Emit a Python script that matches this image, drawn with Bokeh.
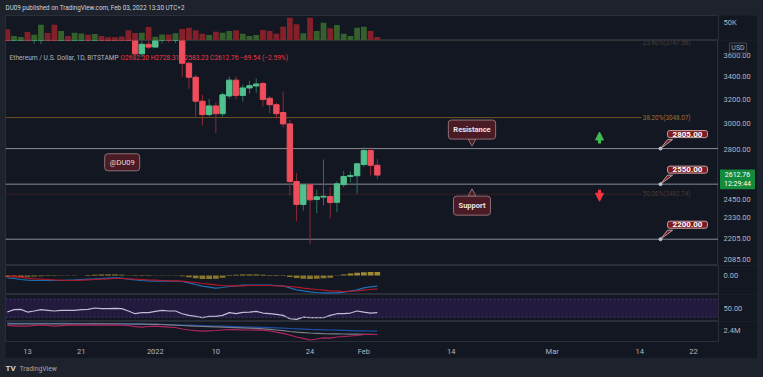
import numpy as np
import pandas as pd
from bokeh.plotting import figure
from bokeh.layouts import column, row
from bokeh.models import (Range1d, FixedTicker, PrintfTickFormatter, Span, Label,
                          Arrow, NormalHead, ColumnDataSource, Spacer, BoxAnnotation)
from bokeh.embed import file_html
from bokeh.resources import INLINE
from bokeh.core.properties import value

# ---------------- data ----------------
start_date = "2021-12-10"
end_date = "2022-02-03"
origin_date = "2021-12-13"

opens = [4111, 3901, 4067, 4131, 3782, 3859, 4018, 3960, 3880, 3961, 3921, 3941, 4020, 3983,
         4108, 4045, 4040, 4030, 4015, 3795, 3616, 3710, 3682, 3765, 3830, 3762, 3793, 3526,
         3396, 3185, 3073, 3145, 3080, 3230, 3370, 3235, 3300, 3318, 3340, 3210, 3155, 3090,
         2997, 2568, 2415, 2545, 2447, 2463, 2467, 2429, 2547, 2603, 2608, 2688, 2790, 2682.30]
highs = [4239, 4100, 4147, 4131, 3880, 4090, 4100, 3990, 3990, 4040, 3960, 4060, 4060, 4140,
         4130, 4110, 4090, 4125, 4035, 3830, 3765, 3770, 3775, 3860, 3840, 3880, 3850, 3545,
         3420, 3240, 3205, 3175, 3260, 3400, 3405, 3330, 3365, 3385, 3355, 3230, 3170, 3270,
         3032, 2628, 2550, 2556, 2513, 2724, 2529, 2570, 2640, 2640, 2700, 2815, 2815, 2728.31]
lows = [3890, 3870, 4000, 3760, 3716, 3712, 3950, 3800, 3850, 3910, 3830, 3920, 3960, 3960,
        4030, 4030, 3990, 4010, 3770, 3600, 3585, 3660, 3675, 3720, 3728, 3722, 3400, 3292,
        3057, 2984, 3057, 2925, 3057, 3205, 3200, 3182, 3250, 3258, 3140, 3083, 3038, 2968,
        2474, 2309, 2376, 2169, 2359, 2408, 2326, 2365, 2529, 2563, 2485, 2670, 2610, 2583.23]
closes = [3901, 4067, 4131, 3782, 3859, 4018, 3960, 3880, 3961, 3921, 3941, 4020, 3983, 4108,
          4045, 4040, 4030, 4015, 3795, 3616, 3710, 3682, 3765, 3830, 3762, 3793, 3526, 3396,
          3185, 3073, 3145, 3080, 3240, 3370, 3235, 3300, 3320, 3335, 3200, 3155, 3080, 2997,
          2568, 2415, 2545, 2445, 2465, 2468, 2427, 2552, 2603, 2610, 2693, 2790, 2682.30, 2612.76]
volume_k = [23.9, 9.6, 7.5, 18.1, 12.1, 33.7, 16.0, 33.7, 20.2, 9.6, 16.6, 14.9, 12.4, 13.8,
            9.6, 6.8, 6.8, 8.5, 21.7, 16.0, 16.6, 28.8, 7.9, 12.6, 12.6, 15.5, 24.5, 27.3,
            21.9, 14.5, 11.7, 18.7, 16.6, 20.2, 21.7, 14.5, 9.6, 11.7, 22.4, 20.2, 14.5, 29.4,
            48.6, 34.5, 15.3, 48.6, 20.2, 37.9, 26.0, 33.0, 14.5, 9.6, 27.3, 29.4, 20.2, 7.5]
macd_line = [-47, -60, -80, -93, -100, -100, -100, -100, -100, -93, -87, -80, -73, -67,
             -60, -53, -47, -53, -73, -87, -100, -107, -113, -113, -113, -113, -120, -147,
             -180, -213, -233, -253, -240, -220, -207, -193, -193, -193, -193, -193, -200, -207,
             -247, -287, -307, -327, -340, -347, -347, -347, -333, -313, -287, -247, -227, -213]
signal_line = [-7, -20, -33, -53, -67, -73, -80, -87, -93, -100, -100, -93, -87, -80,
               -73, -67, -60, -60, -67, -73, -80, -87, -93, -100, -107, -107, -113, -127,
               -140, -160, -173, -187, -200, -207, -207, -207, -200, -200, -200, -200, -207, -213,
               -220, -233, -253, -267, -280, -293, -307, -313, -320, -313, -307, -293, -280, -267]
macd_hist = [-30, -35, -35, -25, -20, -15, -12, -10, -7, -5, -3, -2, 10, 15,
             20, 22, 20, 15, -5, -8, -10, -8, -6, -5, -5, -4, -15, -35,
             -55, -70, -72, -65, -45, 10, 15, 20, 20, 18, 15, 12, 8, -10,
             -30, -50, -65, -70, -65, -55, -45, 5, 20, 40, 55, 65, 70, 70]
rsi = [41.4, 46.8, 47.5, 41.4, 43.7, 46.8, 45.3, 43.7, 45.3, 45.3, 45.3, 46.8, 47.5, 50.5,
       49.0, 49.0, 49.8, 49.0, 43.7, 37.7, 40.0, 40.0, 43.0, 45.3, 43.7, 43.7, 37.7, 34.0,
       31.7, 28.8, 31.7, 31.7, 34.0, 40.0, 37.7, 40.8, 41.4, 43.0, 39.2, 37.7, 36.2, 34.0,
       26.5, 25.0, 30.1, 28.8, 28.8, 28.8, 34.0, 37.7, 37.7, 39.2, 43.7, 41.4, 39.2, 40.0]
ind_blue = [3.13, 3.12, 3.12, 3.11, 3.11, 3.12, 3.12, 3.11, 3.11, 3.11, 3.10, 3.10, 3.10, 3.11,
            3.10, 3.10, 3.09, 3.09, 3.08, 3.07, 3.07, 3.05, 3.03, 3.01, 2.99, 2.97, 2.95, 2.93,
            2.91, 2.89, 2.87, 2.85, 2.83, 2.81, 2.79, 2.77, 2.75, 2.73, 2.71, 2.69, 2.66, 2.63,
            2.60, 2.57, 2.54, 2.51, 2.49, 2.47, 2.45, 2.43, 2.41, 2.39, 2.37, 2.36, 2.35, 2.33]
ind_grey = [3.07, 3.07, 3.06, 3.06, 3.06, 3.07, 3.07, 3.06, 3.06, 3.06, 3.06, 3.06, 3.07, 3.07,
            3.07, 3.07, 3.06, 3.05, 3.05, 3.04, 3.03, 3.02, 3.01, 3.00, 2.97, 2.93, 2.90, 2.87,
            2.83, 2.80, 2.78, 2.76, 2.73, 2.70, 2.68, 2.66, 2.64, 2.61, 2.57, 2.52, 2.45, 2.38,
            2.30, 2.23, 2.19, 2.15, 2.12, 2.09, 2.07, 2.06, 2.05, 2.04, 2.03, 2.02, 2.01, 2.00]
ind_pink = [2.90, 2.87, 2.83, 2.83, 2.90, 2.97, 2.90, 2.83, 2.88, 2.93, 2.93, 2.95, 2.93, 2.95,
            2.93, 2.93, 2.95, 2.93, 2.90, 2.78, 2.73, 2.80, 2.83, 2.78, 2.73, 2.70, 2.55, 2.45,
            2.38, 2.33, 2.37, 2.40, 2.45, 2.50, 2.48, 2.45, 2.45, 2.43, 2.43, 2.35, 2.23, 2.12,
            1.95, 1.75, 1.62, 1.45, 1.55, 1.67, 1.63, 1.75, 1.80, 1.85, 1.90, 2.00, 2.00, 2.00]

price_ticks = [2085, 2205, 2330, 2450, 2800, 3000, 3200, 3400, 3600]
time_tick_dates = ["2021-12-13", "2021-12-21", "2022-01-01", "2022-01-10", "2022-01-24",
                   "2022-02-01", "2022-02-14", "2022-03-01", "2022-03-14", "2022-03-22"]
time_tick_labels = ["13", "21", "2022", "10", "24", "Feb", "14", "Mar", "14", "22"]
levels = [2805.00, 2550.00, 2200.00]
fib_levels = [3747.56, 3048.07, 2482.74]
fib_names = ["23.60%", "38.20%", "50.00%"]
last_close = 2612.76
countdown = "12:29:44"
header_text = "DU09 published on TradingView.com, Feb 03, 2022 13:30 UTC+2"
symbol_text = "Ethereum / U.S. Dollar, 1D, BITSTAMP"
ohlc_text = "O2682.30 H2728.31 L2583.23 C2612.76 \u221269.54 (\u22122.59%)"

# ---------------- styling / layout constants ----------------
BG = "#131722"; OUT = "#1e222d"; SEP = "#2a2e39"; TXT = "#b2b5be"; FONT = "Roboto"
UP = "#50c08c"; DN = "#ef4d5c"; UPW = "#2d7155"; DNW = "#8c2a35"
VUP = "#34602c"; VDN = "#832029"
FS = "7.5px"

origin = pd.Timestamp(origin_date)
days = (pd.date_range(start_date, end_date, freq="D") - origin).days.to_numpy()
tick_days = [(pd.Timestamp(d) - origin).days for d in time_tick_dates]

o = np.array(opens, float); c = np.array(closes, float)
rising = c >= o
src = ColumnDataSource(dict(
    x=days, o=o, h=highs, l=lows, c=c,
    top=np.maximum(o, c), bot=np.minimum(o, c),
    col=np.where(rising, UP, DN), wick=np.where(rising, UPW, DNW),
    vol=volume_k, vcol=np.where(rising, VUP, VDN),
    macd=macd_line, sig=signal_line, hist=macd_hist,
    hcol=["#c8602a" if i < 3 else ("#a08b32" if v >= 0 else "#8a772a") for i, v in enumerate(macd_hist)],
    rsi=rsi, b=ind_blue, g=ind_grey, pk=ind_pink,
))

xr = Range1d(-3.27, 102.72)
MAIN_LO, MAIN_HI, MAIN_H = 2050.4, 3747.7, 225
yr_main = Range1d(MAIN_LO, MAIN_HI)
PXLOG = MAIN_H / np.log(MAIN_HI / MAIN_LO)
DAYPX = 713 / (xr.end - xr.start)


def shift(price, px):
    return price * np.exp(px / PXLOG)


def style_axis(ax):
    ax.axis_line_color = None
    ax.major_tick_line_color = None
    ax.minor_tick_line_color = None
    ax.major_tick_out = 0
    ax.major_tick_in = 0
    ax.major_label_standoff = 5
    ax.major_label_text_color = TXT
    ax.major_label_text_font = FONT
    ax.major_label_text_font_size = FS


def pane(h, yr, ytype="linear", bottom=0, axis=True):
    p = figure(width=752 if axis else 713, height=h + bottom, x_range=xr, y_range=yr, y_axis_type=ytype,
               x_axis_location="below" if bottom else None, y_axis_location="right" if axis else None,
               output_backend="svg", toolbar_location=None,
               min_border_left=0, min_border_right=39 if axis else 0, min_border_top=0,
               min_border_bottom=bottom,
               background_fill_color=BG, border_fill_color=BG, outline_line_color=SEP)
    p.grid.visible = False
    for ax in p.yaxis:
        style_axis(ax)
    return p


# ---------------- volume pane ----------------
vol = pane(25, Range1d(0, 53.3))
vol.yaxis.ticker = FixedTicker(ticks=[50])
vol.yaxis.formatter = PrintfTickFormatter(format="%dK")
vol.vbar(x="x", width=0.86, top="vol", bottom=0, fill_color="vcol", line_color=None, source=src)

# ---------------- main price pane ----------------
main = pane(MAIN_H, yr_main, ytype="log", axis=False)

# legend texts (under the candles)
main.text(x=[xr.start + 4 / DAYPX], y=[shift(MAIN_HI, -17.3)], text=[symbol_text],
          text_font=value(FONT), text_font_size="6.6px", text_color=TXT, text_baseline="middle")
main.text(x=[xr.start + 115 / DAYPX], y=[shift(MAIN_HI, -17.3)], text=[ohlc_text],
          text_font=value(FONT), text_font_size="6.6px", text_color="#f23645", text_baseline="middle")

for L in levels:
    main.add_layout(Span(location=L, dimension="width", line_color="#8a8d96", line_width=1, level="underlay"))

fib_end = xr.start + 636 / DAYPX
fib_cols = ["#3a3a33", "#6e5424", "#3c2127"]
fib_tcols = ["#45413a", "#a0702c", "#4b3a30"]
for lvl, nm, lc, tc in zip(fib_levels, fib_names, fib_cols, fib_tcols):
    main.segment(x0=[xr.start], x1=[fib_end], y0=[lvl], y1=[lvl], line_color=lc, line_width=1)
    main.add_layout(Label(x=fib_end + 0.2, y=lvl if lvl < 3700 else shift(lvl, -2), text=f"{nm}({lvl:.2f})",
                          text_font=FONT, text_font_size="6.3px", text_color=tc, text_baseline="middle"))

main.segment(x0="x", y0="l", x1="x", y1="h", line_color="wick", line_width=1, source=src)
main.vbar(x="x", width=0.8, top="top", bottom="bot", fill_color="col", line_color="col", source=src)

# price callouts
tip_day = xr.start + 655 / DAYPX
box_day = xr.start + 682 / DAYPX
for L in levels:
    base = shift(L, 9)
    main.patch(x=[tip_day, tip_day + 1.05, tip_day + 1.8], y=[L, base, base],
               fill_color="#7d1a20", line_color="#b9a0a3", line_width=1)
    main.scatter(x=[tip_day], y=[L], size=3, color="#c0c2ca")
    main.add_layout(Label(x=box_day, y=shift(L, 14.5), text=f"{L:.2f}", text_align="center",
                          text_baseline="middle", text_font=FONT, text_font_size="8px",
                          text_font_style="bold", text_color="#ffffff",
                          background_fill_color="#7d1a20", border_line_color="#c4a4a6",
                          border_line_width=1, border_radius=2,
                          padding=dict(left=5, right=5, top=1, bottom=1)))

# Resistance / Support callouts
rs_day = xr.start + 466.5 / DAYPX
half = 4 / DAYPX
main.patch(x=[rs_day - half, rs_day + half, rs_day], y=[shift(levels[0], 9.5)] * 2 + [shift(levels[0], 2.6)],
           fill_color="#4a1b25", line_color="#8e6f77", line_width=1)
main.add_layout(Label(x=rs_day, y=shift(levels[0], 19), text="Resistance", text_align="center",
                      text_baseline="middle", text_font=FONT, text_font_size=FS, text_font_style="bold",
                      text_color="#ece2e4", background_fill_color="#4a1b25",
                      border_line_color="#8e6f77", border_line_width=1, border_radius=3,
                      padding=dict(left=5, right=5, top=5, bottom=5)))
main.patch(x=[rs_day - half, rs_day + half, rs_day], y=[shift(levels[1], -12)] * 2 + [shift(levels[1], -4.7)],
           fill_color="#4a1b25", line_color="#8e6f77", line_width=1)
main.add_layout(Label(x=rs_day, y=shift(levels[1], -21.5), text="Support", text_align="center",
                      text_baseline="middle", text_font=FONT, text_font_size=FS, text_font_style="bold",
                      text_color="#ece2e4", background_fill_color="#4a1b25",
                      border_line_color="#8e6f77", border_line_width=1, border_radius=3,
                      padding=dict(left=5, right=5, top=5, bottom=5)))
main.add_layout(Label(x=xr.start + 116.7 / DAYPX, y=shift(levels[0], -13.7), text="@DU09", text_align="center",
                      text_baseline="middle", text_font=FONT, text_font_size=FS,
                      text_color="#e4dadc", background_fill_color="#4a1b25",
                      border_line_color="#8e6f77", border_line_width=1, border_radius=3,
                      padding=dict(left=5, right=5, top=4, bottom=4)))

# arrows
arr_day = xr.start + 594 / DAYPX
main.add_layout(Arrow(end=NormalHead(size=8, fill_color="#43b94f", line_color="#43b94f"),
                      x_start=arr_day, y_start=shift(levels[0], 5), x_end=arr_day, y_end=shift(levels[0], 16.6),
                      line_color="#43b94f", line_width=3))
main.add_layout(Arrow(end=NormalHead(size=8, fill_color="#f23645", line_color="#f23645"),
                      x_start=arr_day, y_start=shift(levels[1], -5.7), x_end=arr_day, y_end=shift(levels[1], -17.1),
                      line_color="#f23645", line_width=3))

# ---------------- price scale strip (shares the main log y-range) ----------------
scale = figure(width=39, height=MAIN_H, x_range=Range1d(0, 39), y_range=yr_main, y_axis_type="log",
               x_axis_location=None, y_axis_location=None, output_backend="svg", toolbar_location=None,
               min_border=0, outline_line_color=None, background_fill_color=BG, border_fill_color=BG)
scale.grid.visible = False
scale.text(x=[5] * len(price_ticks), y=price_ticks, text=[f"{t:.2f}" for t in price_ticks],
           text_font=value(FONT), text_font_size=FS, text_color=TXT, text_baseline="middle")
scale.add_layout(Label(x=19.5, y=shift(MAIN_HI, -7.5), text="USD", text_align="center",
                       text_baseline="middle", text_font=FONT, text_font_size="7px", text_color=TXT,
                       border_line_color="#434651", border_line_width=1,
                       padding=dict(left=2, right=2, top=1, bottom=1)))
scale.add_layout(Label(x=19, y=shift(last_close, -4.3), text=f"{last_close:.2f}\n{countdown}",
                       text_align="center", text_baseline="middle", text_font=FONT, text_font_size="7px",
                       text_color="#ffffff", background_fill_color="#138a3c",
                       padding=dict(left=4, right=4, top=1, bottom=1)))

# ---------------- MACD pane ----------------
macd = pane(29, Range1d(-380, 200))
macd.yaxis.ticker = FixedTicker(ticks=[0])
macd.yaxis.formatter = PrintfTickFormatter(format="%.2f")
macd.vbar(x="x", width=0.85, top="hist", bottom=0, fill_color="hcol", line_color=None, source=src)
macd.line(x="x", y="macd", line_color="#1f6fb5", line_width=1.2, source=src)
macd.line(x="x", y="sig", line_color="#b0182a", line_width=1.2, source=src)

# ---------------- RSI pane ----------------
rsip = pane(27, Range1d(20.3, 80.6))
rsip.yaxis.ticker = FixedTicker(ticks=[50])
rsip.yaxis.formatter = PrintfTickFormatter(format="%.2f")
rsip.add_layout(BoxAnnotation(bottom=30, top=70, fill_color="#231a3d", fill_alpha=1,
                              line_color=None, level="underlay"))
for lv in (30, 70):
    rsip.add_layout(Span(location=lv, dimension="width", line_color="#44397a", line_width=1, line_dash="2 2"))
rsip.line(x="x", y="rsi", line_color="#c4bcd6", line_width=1.2, source=src)

# ---------------- third indicator pane + time axis ----------------
ind = pane(20, Range1d(1.3, 3.3), bottom=17)
ind.yaxis.ticker = FixedTicker(ticks=[2.4])
ind.yaxis.formatter = PrintfTickFormatter(format="%.1fM")
ind.line(x="x", y="b", line_color="#1c4ea8", line_width=1.2, source=src)
ind.line(x="x", y="g", line_color="#7b7e87", line_width=1.2, source=src)
ind.line(x="x", y="pk", line_color="#b3245f", line_width=1.2, source=src)
xa = ind.xaxis[0]
style_axis(xa)
xa.ticker = FixedTicker(ticks=tick_days)
xa.major_label_overrides = {d: t for d, t in zip(tick_days, time_tick_labels)}

# ---------------- header & footer ----------------
def strip(h):
    f = figure(width=763, height=h, x_range=Range1d(0, 763), y_range=Range1d(0, h),
               x_axis_location=None, y_axis_location=None, output_backend="svg",
               toolbar_location=None, min_border=0, outline_line_color=None,
               background_fill_color=OUT, border_fill_color=OUT)
    f.grid.visible = False
    return f

hdr = strip(15)
hdr.add_layout(Label(x=5, y=7.5, text=header_text, text_font=FONT, text_font_size="6.3px",
                     text_color="#d1d4dc", text_baseline="middle"))
ftr = strip(19)
ftr.add_layout(Label(x=5, y=9, text="TV", text_font=FONT, text_font_size="8px", text_font_style="bold",
                     text_color="#d1d4dc", text_baseline="middle"))
ftr.add_layout(Label(x=19, y=9, text="TradingView", text_font=FONT, text_font_size="6.8px",
                     text_color="#a3a6af", text_baseline="middle"))

inner = column(vol, row(main, scale, spacing=0), macd, rsip, ind, spacing=0)
body = row(Spacer(width=5, height=343), inner, Spacer(width=6, height=343), spacing=0)
layout = column(hdr, body, ftr, spacing=0)

html = file_html(layout, INLINE)
html = html.replace("<body>", '<body style="margin:0;background:#1e222d;">')
open("out.html", "w").write(html)
